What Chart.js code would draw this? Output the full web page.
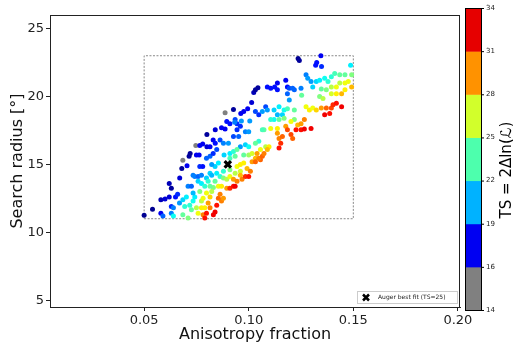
<!DOCTYPE html>
<html>
<head>
<meta charset="utf-8">
<script src="https://cdn.jsdelivr.net/npm/chart.js@4.4.1/dist/chart.umd.min.js"></script>
<style>
  html, body { margin: 0; padding: 0; background: #fff; }
</style>
</head>
<body>
<canvas id="myChart" width="513" height="344"></canvas>
<script>
// axis ranges and ticks
const xMin = 0.005, xMax = 0.201;
const yMin = 4.5, yMax = 26;
const xTicks = [0.05, 0.10, 0.15, 0.20];
const yTicks = [5, 10, 15, 20, 25];

// scan region (dashed box)
const boxX = [0.05, 0.15];
const boxY = [11, 23];

// best fit marker
const bestFit = { x: 0.09, y: 15, label: "Auger best fit (TS=25)" };

// colorbar bins
const cbBounds = [14, 16, 19, 22, 25, 28, 31, 34];
const cbColors = ["#808080", "#0000f2", "#00b2ff", "#4dffad", "#d2ff2b", "#ff9200", "#e60000"];

// scan points [anisotropy fraction, search radius, TS]
const tailLeft = [
  [0.050, 11.25, 16.3], [0.054, 11.7, 16.3], [0.058, 11.4, 18], [0.059, 11.2, 20], [0.058, 12.4, 17],
  [0.060, 12.45, 17.5], [0.062, 12.6, 17.5], [0.063, 13.25, 16.5], [0.062, 13.6, 17], [0.063, 11.4, 20.5],
  [0.063, 11.9, 19], [0.064, 11.8, 20.5], [0.064, 11.2, 23], [0.065, 12.6, 18.5], [0.066, 12.8, 19]
];
const upperLeft = [
  [0.067, 14.0, 17.5], [0.068, 14.7, 16.5], [0.0685, 15.3, 15], [0.0705, 14.9, 18], [0.0715, 15.6, 16.5],
  [0.072, 15.8, 16.5], [0.0747, 16.4, 15], [0.075, 15.7, 18], [0.0763, 15.7, 18], [0.0766, 16.4, 18],
  [0.078, 16.5, 18], [0.080, 16.3, 17.5], [0.080, 17.2, 16.5], [0.0815, 16.3, 18], [0.083, 16.8, 18],
  [0.084, 17.55, 17.5], [0.087, 17.7, 18], [0.0887, 17.6, 18], [0.0887, 18.8, 15], [0.0927, 19.05, 16.5],
  [0.0766, 14.85, 19], [0.078, 14.85, 18.5], [0.0798, 15.45, 20], [0.0815, 15.6, 20], [0.083, 15.8, 19],
  [0.0847, 16.1, 19.5], [0.084, 16.55, 18.5], [0.0863, 16.8, 19.5], [0.0879, 16.55, 20.5], [0.0903, 16.55, 21]
];
const upperMid = [
  [0.0895, 18.15, 18.5], [0.091, 18.0, 18.5], [0.0935, 18.3, 19.5], [0.0944, 18.0, 19], [0.0944, 17.55, 19],
  [0.096, 17.8, 19], [0.0962, 18.75, 18], [0.0976, 18.9, 18], [0.0995, 19.1, 18], [0.1014, 19.55, 17.5],
  [0.1024, 20.3, 17], [0.1032, 20.5, 16.5], [0.1044, 20.65, 16.5], [0.0927, 17.05, 19.5], [0.0952, 17.05, 20],
  [0.0984, 17.4, 20.5], [0.1, 17.4, 21], [0.0933, 18.1, 20.5], [0.0965, 18.2, 21], [0.1005, 18.2, 21],
  [0.1032, 18.9, 19.5], [0.1048, 18.65, 19], [0.1081, 19.25, 19.5]
];
const upperRight = [
  [0.1089, 20.7, 18.5], [0.1105, 20.6, 18.5], [0.1124, 20.7, 18.5], [0.1137, 21.0, 18], [0.1137, 20.5, 18.5],
  [0.1177, 21.2, 18], [0.1185, 20.7, 18.5], [0.1194, 20.6, 19.5], [0.121, 20.6, 20], [0.1185, 20.2, 20],
  [0.1218, 20.5, 20], [0.125, 20.6, 20.5], [0.1194, 19.75, 21], [0.1236, 22.8, 16.3], [0.1242, 22.65, 16.5],
  [0.1345, 23.0, 18], [0.132, 22.3, 18.5], [0.1325, 22.5, 18.5], [0.1348, 22.2, 19]
];
const cyanBand = [
  [0.0669, 12.15, 21], [0.0685, 12.4, 22], [0.0702, 12.6, 22.5], [0.0694, 11.9, 23.5], [0.0685, 11.3, 24.5],
  [0.071, 11.05, 25], [0.0726, 11.66, 24.5], [0.0718, 12.0, 23.5], [0.0734, 12.3, 23], [0.0742, 12.6, 22.5],
  [0.0734, 12.9, 21.5], [0.071, 13.4, 20.5], [0.0726, 13.4, 20], [0.0742, 14.1, 20.5], [0.0758, 14.1, 20],
  [0.0774, 14.2, 20.5], [0.0734, 14.2, 20.5], [0.0758, 13.75, 22], [0.0798, 14.0, 22], [0.0815, 14.35, 22],
  [0.0774, 13.6, 22.5], [0.079, 13.4, 23.5], [0.0806, 13.75, 23.5], [0.0823, 14.2, 21.5], [0.0847, 14.35, 22.5],
  [0.0863, 14.1, 23.5], [0.0839, 14.85, 22], [0.0823, 15.0, 21], [0.0855, 15.1, 22.5], [0.0882, 15.7, 22],
  [0.0879, 14.5, 23.5], [0.091, 15.8, 22.5], [0.0927, 15.95, 23.5], [0.096, 16.3, 21], [0.0984, 16.45, 22],
  [0.1, 16.3, 23], [0.1048, 16.7, 23.5], [0.1065, 18.9, 21], [0.1089, 19.0, 21], [0.1121, 19.0, 22],
  [0.1145, 19.25, 22.5], [0.1169, 19.0, 23], [0.1121, 18.3, 23], [0.1105, 18.3, 23.5], [0.1137, 18.65, 21.5],
  [0.1161, 18.65, 22], [0.1274, 21.6, 20.5], [0.1282, 21.35, 21], [0.1298, 21.1, 21], [0.1306, 20.7, 22],
  [0.1323, 21.1, 22], [0.1339, 21.2, 22.5], [0.1363, 21.35, 23], [0.1379, 21.1, 23.5], [0.1395, 21.45, 23.5],
  [0.1411, 21.7, 24], [0.1487, 22.3, 22.5]
];
const greenBand = [
  [0.0831, 13.3, 25], [0.0815, 13.4, 24.5], [0.0839, 13.75, 24.5], [0.0879, 14.0, 25], [0.091, 14.6, 25],
  [0.0766, 13.0, 25], [0.091, 15.45, 24], [0.0935, 15.6, 24.5], [0.0944, 16.1, 24.5], [0.0976, 15.7, 24.5],
  [0.1, 15.7, 25.5], [0.1032, 16.55, 24.5], [0.1073, 17.55, 24.5], [0.1065, 17.55, 24], [0.1145, 18.3, 24.5],
  [0.1169, 18.4, 25], [0.1218, 18.3, 25], [0.1185, 19.1, 24], [0.1218, 19.0, 24.5], [0.1253, 20.1, 24.5],
  [0.1435, 21.6, 24.5], [0.146, 21.6, 24.5], [0.1492, 21.6, 25], [0.1347, 20.55, 24.5], [0.1371, 20.5, 25],
  [0.1339, 20.0, 25], [0.0774, 12.3, 26], [0.075, 11.8, 26], [0.0823, 13.0, 26], [0.0895, 13.9, 26],
  [0.0935, 14.35, 26], [0.096, 14.5, 26.5], [0.1081, 16.3, 26], [0.1355, 19.85, 26], [0.1395, 20.7, 26],
  [0.1435, 21.0, 26], [0.1395, 20.2, 26.5]
];
const yellowBand = [
  [0.0758, 11.4, 27], [0.0774, 11.8, 27.5], [0.079, 11.8, 27.5], [0.0798, 12.9, 27], [0.0782, 12.5, 27],
  [0.0815, 12.6, 28], [0.0855, 13.4, 27], [0.087, 13.4, 27.5], [0.091, 14.1, 27], [0.0944, 14.85, 27],
  [0.096, 15.0, 27.5], [0.0976, 15.1, 27.5], [0.1016, 15.8, 26.5], [0.1056, 16.1, 27], [0.1097, 16.3, 27.5],
  [0.1105, 17.65, 27], [0.1137, 17.65, 27.5], [0.1202, 18.15, 27], [0.1274, 19.25, 27], [0.129, 19.0, 27.5],
  [0.1306, 19.15, 27], [0.1323, 19.0, 28], [0.1419, 20.7, 27], [0.146, 21.0, 27], [0.1476, 21.1, 27],
  [0.146, 20.5, 27.5], [0.1419, 20.2, 27.5], [0.1492, 20.7, 28.5], [0.1444, 20.2, 28.5], [0.1089, 16.1, 28.5],
  [0.1234, 17.9, 28.5], [0.096, 14.2, 28.5], [0.0992, 14.7, 28.5], [0.1032, 15.45, 28.5]
];
const redBand = [
  [0.0782, 11.3, 29.5], [0.079, 11.05, 31.5], [0.0806, 12.15, 29], [0.0815, 11.8, 29.5], [0.0831, 11.3, 32],
  [0.0839, 11.5, 32], [0.0847, 12.0, 31.5], [0.0855, 12.5, 30], [0.0863, 12.8, 29.5], [0.087, 12.3, 29.5],
  [0.0879, 12.5, 29], [0.0798, 11.4, 31.5], [0.0895, 13.25, 29], [0.091, 13.25, 31], [0.0927, 13.4, 31.5],
  [0.0935, 13.4, 32], [0.0927, 13.9, 29], [0.0944, 13.75, 29.5], [0.0968, 13.9, 29.5], [0.0984, 14.1, 31],
  [0.1, 14.1, 31.5], [0.1008, 14.5, 29.5], [0.1016, 15.2, 29], [0.1032, 15.2, 30], [0.1056, 15.35, 30],
  [0.1048, 15.45, 29.5], [0.104, 15.8, 29], [0.1065, 15.6, 30], [0.1073, 15.8, 29.5], [0.1145, 16.2, 31.5],
  [0.1153, 16.55, 31], [0.1145, 16.9, 29.5], [0.1161, 17.05, 30], [0.1137, 17.3, 29], [0.1177, 17.8, 29],
  [0.1185, 17.55, 30.5], [0.1202, 17.2, 30.5], [0.121, 16.9, 30], [0.1226, 17.55, 31.5], [0.125, 17.55, 31.5],
  [0.1266, 17.6, 32], [0.1298, 17.65, 32], [0.1266, 18.3, 29.5], [0.125, 18.0, 29], [0.1347, 19.15, 29],
  [0.1371, 19.15, 30], [0.1395, 19.15, 30.5], [0.1403, 19.4, 31], [0.1419, 19.5, 31.5], [0.1444, 19.25, 32],
  [0.1363, 18.65, 32], [0.1387, 18.75, 31.5]
];

const scanPoints = [...tailLeft, ...upperLeft, ...upperMid, ...upperRight, ...cyanBand, ...greenBand, ...yellowBand, ...redBand];

// jet colormap, grey under 16
const jet = (t) => {
  const clamp = (v) => Math.min(Math.max(v, 0), 1);
  const r = clamp(Math.min(4 * t - 1.5, -4 * t + 4.5));
  const g = clamp(Math.min(4 * t - 0.5, -4 * t + 3.5));
  const b = clamp(Math.min(4 * t + 0.5, -4 * t + 2.5));
  return `rgb(${Math.round(r * 255)},${Math.round(g * 255)},${Math.round(b * 255)})`;
};
const tsColor = (ts) => (ts < 16 ? "#808080" : jet((ts - 16) / 18));

const font = "'DejaVu Sans', sans-serif";

const framePlugin = {
  id: "frame",
  afterDraw(chart) {
    const { ctx, chartArea: a } = chart;
    ctx.save();
    ctx.strokeStyle = "#222";
    ctx.lineWidth = 1;
    ctx.strokeRect(a.left + 0.5, a.top + 0.5, a.right - a.left - 1, a.bottom - a.top);

    // legend
    const lw = 100, lh = 12;
    const lx = a.right - lw - 3, ly = a.bottom - lh - 4;
    ctx.fillStyle = "#fff";
    ctx.strokeStyle = "#ccc";
    ctx.fillRect(lx, ly, lw, lh);
    ctx.strokeRect(lx + 0.5, ly + 0.5, lw, lh);
    ctx.strokeStyle = "#000";
    ctx.lineWidth = 2.5;
    const mx = lx + 9, my = ly + lh / 2 + 0.5;
    ctx.beginPath();
    ctx.moveTo(mx - 3, my - 3); ctx.lineTo(mx + 3, my + 3);
    ctx.moveTo(mx + 3, my - 3); ctx.lineTo(mx - 3, my + 3);
    ctx.stroke();
    ctx.fillStyle = "#222";
    ctx.font = `6px ${font}`;
    ctx.textBaseline = "middle";
    ctx.fillText(bestFit.label, lx + 21, my);

    // colorbar
    const cx = 465, cw = 16, ctop = 8, cbot = 310;
    const bh = (cbot - ctop) / cbColors.length;
    cbColors.forEach((c, i) => {
      ctx.fillStyle = c;
      ctx.fillRect(cx, cbot - (i + 1) * bh, cw, bh + 0.5);
    });
    ctx.strokeStyle = "#000";
    ctx.lineWidth = 1;
    ctx.strokeRect(cx + 0.5, ctop + 0.5, cw, cbot - ctop);
    ctx.fillStyle = "#222";
    ctx.font = `7px ${font}`;
    ctx.textAlign = "left";
    cbBounds.forEach((v, i) => {
      const yy = cbot - i * bh;
      ctx.beginPath();
      ctx.moveTo(cx + cw, yy + 0.5);
      ctx.lineTo(cx + cw + 3, yy + 0.5);
      ctx.stroke();
      ctx.fillText(String(v), cx + cw + 5, yy);
    });
    ctx.translate(511, 170);
    ctx.rotate(-Math.PI / 2);
    ctx.textAlign = "center";
    ctx.textBaseline = "alphabetic";
    ctx.font = `15px ${font}`;
    ctx.fillStyle = "#000";
    ctx.fillText("TS = 2\u0394ln(\u2112)", 0, 0);
    ctx.restore();
  }
};

const boxCorners = [
  { x: boxX[0], y: boxY[0] }, { x: boxX[1], y: boxY[0] },
  { x: boxX[1], y: boxY[1] }, { x: boxX[0], y: boxY[1] }, { x: boxX[0], y: boxY[0] }
];

const canvas = document.getElementById("myChart");
const myChart = new Chart(canvas, {
  type: "scatter",
  data: {
    datasets: [
      {
        type: "line",
        data: boxCorners,
        borderColor: "#888",
        borderWidth: 1,
        borderDash: [2, 1.5],
        pointRadius: 0,
        fill: false,
        order: 3
      },
      {
        data: scanPoints.map((p) => ({ x: p[0], y: p[1] })),
        backgroundColor: scanPoints.map((p) => tsColor(p[2])),
        pointRadius: 2.5,
        borderWidth: 0,
        order: 2
      },
      {
        data: [{ x: bestFit.x, y: bestFit.y }],
        pointStyle: "crossRot",
        pointRadius: 4.5,
        borderColor: "#000",
        borderWidth: 3.2,
        order: 1
      }
    ]
  },
  options: {
    responsive: false,
    animation: false,
    layout: { padding: { top: 15, right: 53, left: 0, bottom: 0 } },
    plugins: { legend: { display: false }, tooltip: { enabled: false } },
    scales: {
      x: {
        type: "linear",
        min: xMin,
        max: xMax,
        afterBuildTicks: (s) => { s.ticks = xTicks.map((v) => ({ value: v })); },
        afterFit: (s) => { s.height = 37; },
        ticks: { autoSkip: false, maxRotation: 0, padding: 2, color: "#222", font: { family: font, size: 13 }, callback: (v) => v.toFixed(2) },
        grid: { drawOnChartArea: false, tickLength: 4, color: "#222" },
        border: { color: "#222" },
        title: { display: true, text: "Anisotropy fraction", color: "#111", font: { family: font, size: 16 }, padding: { top: 0, bottom: 0 } }
      },
      y: {
        type: "linear",
        min: yMin,
        max: yMax,
        afterBuildTicks: (s) => { s.ticks = yTicks.map((v) => ({ value: v })); },
        afterFit: (s) => { s.width = 50; },
        ticks: { autoSkip: false, padding: 2, color: "#222", font: { family: font, size: 13 } },
        grid: { drawOnChartArea: false, tickLength: 4, color: "#222" },
        border: { color: "#222" },
        title: { display: true, text: "Search radius [°]", color: "#111", font: { family: font, size: 16 }, padding: { top: 8, bottom: 0 } }
      }
    }
  },
  plugins: [framePlugin]
});
</script>
</body>
</html>
